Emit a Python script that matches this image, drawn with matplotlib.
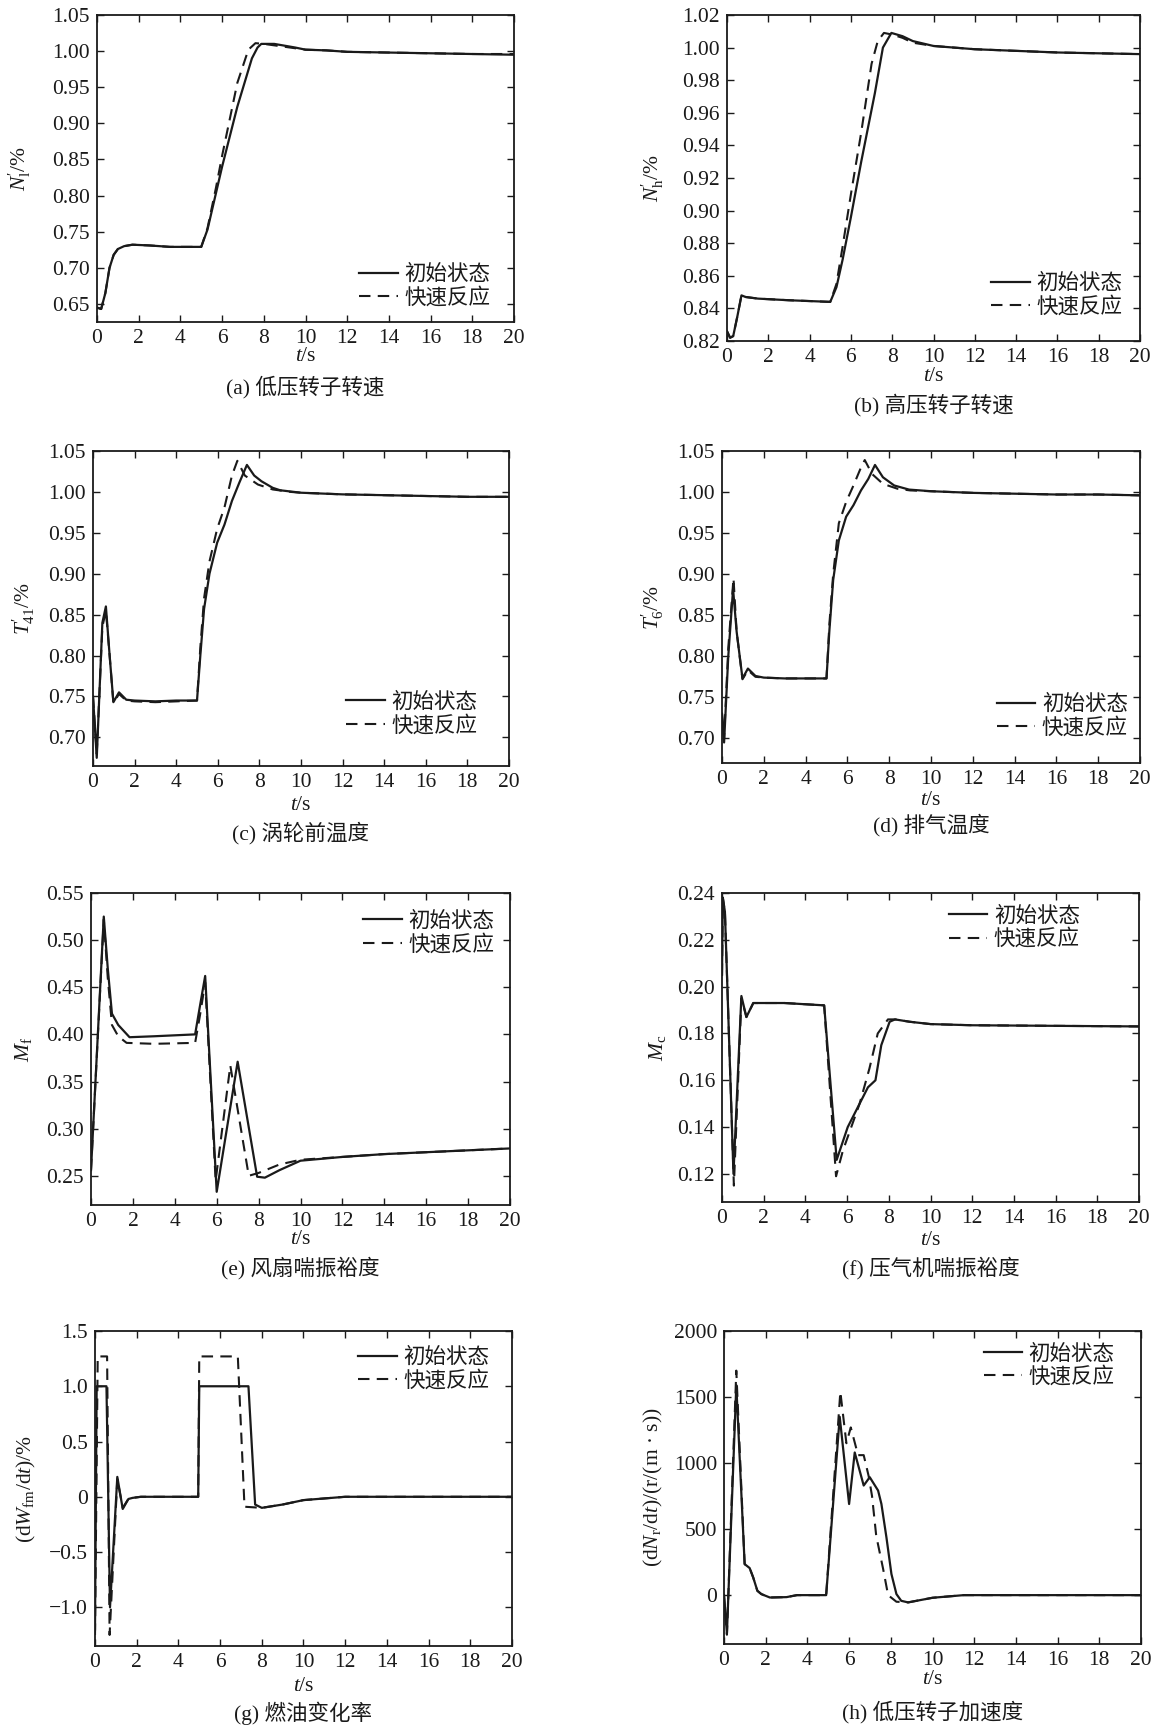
import matplotlib
matplotlib.use("Agg")
import matplotlib.pyplot as plt
import numpy as np

plt.rcParams['font.family'] = ['Liberation Serif', 'Noto Sans CJK SC', 'DejaVu Sans']
plt.rcParams['mathtext.fontset'] = 'custom'
plt.rcParams['mathtext.rm'] = 'Liberation Serif'
plt.rcParams['mathtext.it'] = 'Liberation Serif:italic'
plt.rcParams['mathtext.bf'] = 'Liberation Serif:bold'
plt.rcParams['axes.unicode_minus'] = True

# ---------------- data ----------------
legend_labels = ['初始状态', '快速反应']
captions = ['(a) 低压转子转速', '(b) 高压转子转速', '(c) 涡轮前温度', '(d) 排气温度',
            '(e) 风扇喘振裕度', '(f) 压气机喘振裕度', '(g) 燃油变化率', '(h) 低压转子加速度']
ylabels = [r"$N^{\prime}_{\mathrm{l}}$/%", r"$N^{\prime}_{\mathrm{h}}$/%", r"$T^{\prime}_{41}$/%",
           r"$T^{\prime}_{6}$/%", r"$M_{\mathrm{f}}$", r"$M_{\mathrm{c}}$",
           r"(d$W_{\mathrm{fm}}$/d$t$)/%", r"(d$N_{\mathrm{r}}$/d$t$)/(r/(m · s))"]
xticks = [0, 2, 4, 6, 8, 10, 12, 14, 16, 18, 20]

# (a) low-pressure rotor speed
ta_s = [0, 0.2, 0.4, 0.6, 0.8, 1.0, 1.3, 1.7, 2.5, 3.5, 5.0, 5.3, 6.0, 6.73, 7.43, 7.7, 7.88, 8.5, 9.5, 10, 11, 12, 14, 16, 18, 20]
a_s = [0.645, 0.643, 0.665, 0.700, 0.718, 0.726, 0.730, 0.732, 0.731, 0.729, 0.729, 0.753, 0.840, 0.923, 0.990, 1.005, 1.010, 1.010, 1.005, 1.002, 1.001, 0.999, 0.998, 0.997, 0.996, 0.995]
ta_d = [0, 0.2, 0.4, 0.6, 0.8, 1.0, 1.3, 1.7, 2.5, 3.5, 5.0, 5.3, 5.7, 6.0, 6.73, 7.26, 7.6, 8.0, 8.5, 9.5, 10, 11, 12, 14, 16, 18, 20]
a_d = [0.645, 0.643, 0.665, 0.700, 0.718, 0.726, 0.730, 0.732, 0.731, 0.729, 0.729, 0.755, 0.810, 0.855, 0.956, 1.002, 1.011, 1.010, 1.008, 1.004, 1.002, 1.001, 0.999, 0.998, 0.997, 0.996, 0.996]

# (b) high-pressure rotor speed
tb_s = [0, 0.15, 0.3, 0.5, 0.7, 0.9, 1.5, 3, 5.0, 5.3, 5.6, 6.0, 6.5, 7.16, 7.55, 7.96, 8.5, 9, 10, 12, 14, 16, 18, 20]
b_s = [0.826, 0.822, 0.823, 0.835, 0.848, 0.847, 0.846, 0.845, 0.844, 0.853, 0.870, 0.896, 0.930, 0.972, 1.000, 1.009, 1.007, 1.004, 1.001, 0.999, 0.998, 0.997, 0.9965, 0.996]
tb_d = [0, 0.15, 0.3, 0.5, 0.7, 0.9, 1.5, 3, 5.0, 5.3, 5.6, 6.0, 6.5, 7.0, 7.3, 7.6, 8.0, 8.5, 9, 10, 12, 14, 16, 18, 20]
b_d = [0.826, 0.822, 0.823, 0.835, 0.848, 0.847, 0.846, 0.845, 0.844, 0.855, 0.878, 0.910, 0.948, 0.990, 1.004, 1.009, 1.008, 1.006, 1.003, 1.001, 0.999, 0.998, 0.997, 0.9965, 0.996]

# (c) turbine inlet temperature
tc_s = [0, 0.18, 0.45, 0.62, 0.8, 0.98, 1.25, 1.6, 2, 3, 4, 5.0, 5.16, 5.34, 5.6, 5.97, 6.32, 6.68, 7.03, 7.4, 7.75, 8.1, 8.64, 9, 10, 12, 14, 16, 18, 20]
c_s = [0.75, 0.675, 0.84, 0.86, 0.80, 0.743, 0.755, 0.746, 0.745, 0.744, 0.745, 0.745, 0.80, 0.857, 0.90, 0.938, 0.96, 0.989, 1.011, 1.033, 1.020, 1.013, 1.005, 1.002, 0.999, 0.997, 0.996, 0.995, 0.994, 0.994]
tc_d = [0, 0.18, 0.45, 0.62, 0.8, 0.98, 1.25, 1.6, 2, 3, 4, 5.0, 5.16, 5.34, 5.6, 5.97, 6.32, 6.68, 6.94, 7.3, 7.93, 8.64, 9.5, 10, 12, 14, 16, 18, 20]
c_d = [0.75, 0.68, 0.835, 0.855, 0.80, 0.742, 0.753, 0.745, 0.744, 0.743, 0.744, 0.745, 0.81, 0.87, 0.915, 0.955, 0.981, 1.020, 1.038, 1.020, 1.009, 1.003, 1.000, 0.999, 0.997, 0.996, 0.995, 0.994, 0.994]

# (d) exhaust temperature
td_s = [0, 0.1, 0.3, 0.53, 0.7, 0.98, 1.24, 1.6, 2, 3, 4, 5.0, 5.14, 5.32, 5.59, 5.94, 6.29, 6.65, 7.0, 7.32, 7.7, 8.24, 8.95, 10, 12, 14, 16, 18, 20]
d_s = [0.73, 0.695, 0.80, 0.882, 0.83, 0.773, 0.785, 0.776, 0.774, 0.773, 0.773, 0.773, 0.832, 0.893, 0.941, 0.970, 0.984, 1.002, 1.016, 1.033, 1.018, 1.008, 1.003, 1.001, 0.999, 0.998, 0.997, 0.997, 0.996]
td_d = [0, 0.1, 0.3, 0.55, 0.7, 0.98, 1.24, 1.6, 2, 3, 4, 5.0, 5.14, 5.32, 5.59, 5.94, 6.29, 6.65, 6.83, 7.18, 7.7, 8.4, 9, 10, 12, 14, 16, 18, 20]
d_d = [0.73, 0.70, 0.81, 0.895, 0.83, 0.772, 0.783, 0.775, 0.774, 0.773, 0.773, 0.773, 0.84, 0.90, 0.962, 0.988, 1.008, 1.030, 1.039, 1.022, 1.010, 1.004, 1.002, 1.001, 0.999, 0.998, 0.997, 0.997, 0.996]

# (e) fan surge margin
te_s = [0, 0.61, 0.8, 1.0, 1.3, 1.84, 3, 4.97, 5.2, 5.45, 6.0, 7.0, 7.93, 8.3, 9, 10, 12, 14, 16, 18, 20]
e_s = [0.256, 0.525, 0.47, 0.422, 0.410, 0.397, 0.398, 0.400, 0.430, 0.462, 0.233, 0.371, 0.249, 0.248, 0.256, 0.266, 0.270, 0.273, 0.275, 0.277, 0.279]
te_d = [0, 0.61, 0.8, 1.0, 1.3, 1.7, 3, 4.97, 5.2, 5.45, 5.95, 6.65, 7.53, 8, 9, 10, 12, 14, 16, 18, 20]
e_d = [0.256, 0.522, 0.46, 0.410, 0.398, 0.391, 0.390, 0.391, 0.420, 0.455, 0.245, 0.367, 0.250, 0.253, 0.262, 0.267, 0.270, 0.273, 0.275, 0.277, 0.279]

# (f) compressor surge margin
tf_s = [0, 0.04, 0.14, 0.55, 0.93, 1.17, 1.5, 3, 4.9, 5.5, 6.03, 6.6, 7.0, 7.36, 7.64, 8.04, 8.3, 9, 10, 12, 20]
f_s = [0.205, 0.238, 0.232, 0.120, 0.196, 0.187, 0.193, 0.193, 0.192, 0.126, 0.140, 0.150, 0.157, 0.160, 0.175, 0.185, 0.186, 0.185, 0.184, 0.1835, 0.183]
tf_d = [0, 0.04, 0.14, 0.57, 0.93, 1.17, 1.5, 3, 4.9, 5.47, 5.8, 6.2, 6.6, 7.07, 7.47, 7.96, 8.3, 9, 10, 12, 20]
f_d = [0.205, 0.238, 0.232, 0.115, 0.195, 0.187, 0.193, 0.193, 0.192, 0.119, 0.130, 0.140, 0.150, 0.165, 0.180, 0.186, 0.186, 0.185, 0.184, 0.1835, 0.183]

# (g) fuel change rate
tg_s = [0, 0.08, 0.55, 0.72, 1.07, 1.33, 1.6, 1.8, 2.2, 4.95, 5.0, 7.36, 7.68, 8.0, 9, 10, 12, 20]
g_s = [-1.2, 1.0, 1.0, -1.0, 0.18, -0.11, -0.02, -0.01, 0.0, 0.0, 1.0, 1.0, -0.07, -0.10, -0.07, -0.03, 0.0, 0.0]
tg_d = [0, 0.13, 0.58, 0.70, 1.07, 1.33, 1.6, 1.8, 2.2, 4.95, 5.0, 6.85, 7.17, 8.0, 9, 10, 12, 20]
g_d = [-1.25, 1.27, 1.27, -1.25, 0.16, -0.10, -0.02, -0.01, 0.0, 0.0, 1.27, 1.27, -0.09, -0.10, -0.07, -0.03, 0.0, 0.0]

# (h) low-pressure rotor acceleration
th_s = [0, 0.14, 0.59, 0.99, 1.23, 1.4, 1.6, 1.79, 2.2, 3.0, 3.5, 4.9, 5.55, 6.0, 6.27, 6.7, 6.99, 7.39, 7.55, 7.79, 8.03, 8.27, 8.5, 8.83, 10, 11.5, 20]
h_s = [0, -290, 1590, 235, 205, 134, 33, 8, -18, -15, 0, 0, 1350, 690, 1080, 830, 893, 792, 690, 438, 160, 8, -43, -55, -20, 0, 0]
th_d = [0, 0.14, 0.59, 0.99, 1.23, 1.4, 1.6, 1.79, 2.2, 3.0, 3.5, 4.9, 5.58, 5.87, 6.08, 6.43, 6.7, 6.94, 7.1, 7.3, 7.63, 7.87, 8.27, 8.83, 10, 11.5, 20]
h_d = [0, -300, 1700, 235, 205, 134, 33, 8, -18, -15, 0, 0, 1540, 1150, 1270, 1060, 1060, 900, 750, 450, 200, 0, -50, -55, -20, 0, 0]

yticks_list = [
    [0.65, 0.70, 0.75, 0.80, 0.85, 0.90, 0.95, 1.00, 1.05],
    [0.82, 0.84, 0.86, 0.88, 0.90, 0.92, 0.94, 0.96, 0.98, 1.00, 1.02],
    [0.70, 0.75, 0.80, 0.85, 0.90, 0.95, 1.00, 1.05],
    [0.70, 0.75, 0.80, 0.85, 0.90, 0.95, 1.00, 1.05],
    [0.25, 0.30, 0.35, 0.40, 0.45, 0.50, 0.55],
    [0.12, 0.14, 0.16, 0.18, 0.20, 0.22, 0.24],
    [-1.0, -0.5, 0, 0.5, 1.0, 1.5],
    [0, 500, 1000, 1500, 2000],
]
ytick_labels_list = [
    ['0.65', '0.70', '0.75', '0.80', '0.85', '0.90', '0.95', '1.00', '1.05'],
    ['0.82', '0.84', '0.86', '0.88', '0.90', '0.92', '0.94', '0.96', '0.98', '1.00', '1.02'],
    ['0.70', '0.75', '0.80', '0.85', '0.90', '0.95', '1.00', '1.05'],
    ['0.70', '0.75', '0.80', '0.85', '0.90', '0.95', '1.00', '1.05'],
    ['0.25', '0.30', '0.35', '0.40', '0.45', '0.50', '0.55'],
    ['0.12', '0.14', '0.16', '0.18', '0.20', '0.22', '0.24'],
    ['\u22121.0', '\u22120.5', '0', '0.5', '1.0', '1.5'],
    ['0', '500', '1000', '1500', '2000'],
]
ylims = [(0.625, 1.05), (0.82, 1.02), (0.665, 1.05), (0.67, 1.05),
         (0.219, 0.55), (0.108, 0.24), (-1.35, 1.5), (-370, 2000)]

series = [
    (ta_s, a_s, ta_d, a_d), (tb_s, b_s, tb_d, b_d),
    (tc_s, c_s, tc_d, c_d), (td_s, d_s, td_d, d_d),
    (te_s, e_s, te_d, e_d), (tf_s, f_s, tf_d, f_d),
    (tg_s, g_s, tg_d, g_d), (th_s, h_s, th_d, h_d),
]

# ---------------- layout (pixels) ----------------
W, H = 1159, 1729
boxes = [(97, 514, 15, 322), (727, 1140, 15, 341),
         (93, 509, 451, 766), (722, 1140, 451, 763),
         (91, 510, 893, 1205), (722, 1139, 893, 1202),
         (95, 512, 1331, 1646), (724, 1141, 1331, 1644)]
leg_pos = [(0.944, 0.115), (0.957, 0.139), (0.923, 0.164), (0.971, 0.148),
           (0.963, 0.870), (0.858, 0.886), (0.945, 0.877), (0.937, 0.888)]
ylab_x = [-0.185, -0.179, -0.166, -0.165, -0.16, -0.155, -0.165, -0.17]
xlab_y = [-0.111, -0.110, -0.124, -0.119, -0.112, -0.123, -0.128, -0.115]
cap_y = [387, 405, 833, 825, 1268, 1268, 1713, 1712]

ink = '#1a1a1a'
fs = 15.5

fig = plt.figure(figsize=(W / 100, H / 100), dpi=100)
fig.patch.set_facecolor('white')

for i, (l, r, t, b) in enumerate(boxes):
    ax = fig.add_axes([l / W, 1 - b / H, (r - l) / W, (b - t) / H])
    ts, ys, td_, yd = series[i]
    ax.plot(ts, ys, color=ink, lw=1.6, ls='-', label=legend_labels[0])
    ax.plot(td_, yd, color=ink, lw=1.5, ls=(0, (5.5, 3.5)), label=legend_labels[1])
    ax.set_xlim(0, 20)
    ax.set_ylim(*ylims[i])
    ax.set_xticks(xticks)
    ax.set_xticklabels([str(v) for v in xticks])
    ax.set_yticks(yticks_list[i])
    ax.set_yticklabels(ytick_labels_list[i])
    ax.tick_params(direction='in', length=5, width=1.0, top=True, right=True,
                   labelsize=fs, colors=ink, pad=5)
    for sp in ax.spines.values():
        sp.set_linewidth(1.3)
        sp.set_color(ink)
    ax.set_ylabel(ylabels[i], fontsize=fs, color=ink)
    ax.yaxis.set_label_coords(ylab_x[i], 0.5)
    ax.yaxis.label.set_va('center')
    ax.set_xlabel(r'$t$/s', fontsize=fs, color=ink)
    ax.xaxis.set_label_coords(0.5, xlab_y[i])
    ax.xaxis.label.set_va('center')
    leg = ax.legend(loc='center right', bbox_to_anchor=leg_pos[i], frameon=False,
                    fontsize=fs, handlelength=1.8, handletextpad=0.3,
                    labelspacing=0.12, borderpad=0, borderaxespad=0)
    for txt in leg.get_texts():
        txt.set_color(ink)
    fig.text((l + r) / 2 / W, 1 - cap_y[i] / H, captions[i], ha='center', va='center',
             fontsize=fs, color=ink)

fig.savefig('out.png', dpi=100, facecolor='white')
